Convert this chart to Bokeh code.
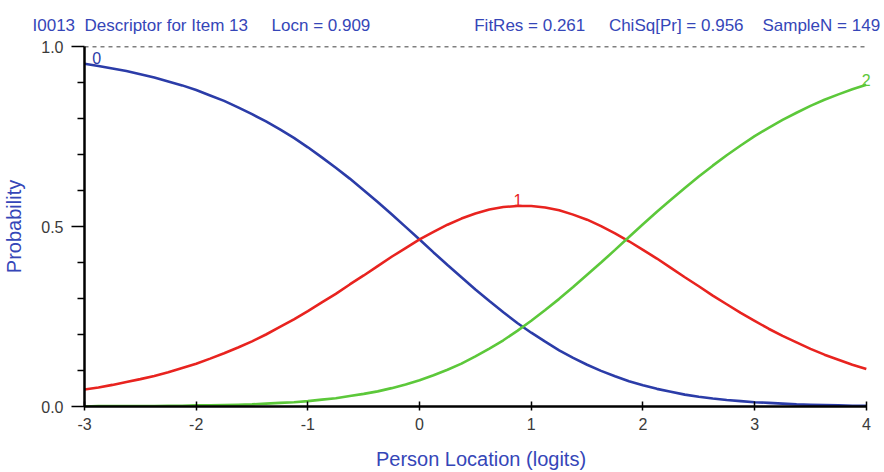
from bokeh.plotting import figure
from bokeh.models import Range1d, FixedTicker, Label, ColumnDataSource, PrintfTickFormatter
from bokeh.embed import file_html
from bokeh.resources import INLINE

# ---- data (category probability curves) ----
x_logits = [-3.0, -2.875, -2.75, -2.625, -2.5, -2.375, -2.25, -2.125,
            -2.0, -1.875, -1.75, -1.625, -1.5, -1.375, -1.25, -1.125,
            -1.0, -0.875, -0.75, -0.625, -0.5, -0.375, -0.25, -0.125,
            0.0, 0.125, 0.25, 0.375, 0.5, 0.625, 0.75, 0.875,
            1.0, 1.125, 1.25, 1.375, 1.5, 1.625, 1.75, 1.875,
            2.0, 2.125, 2.25, 2.375, 2.5, 2.625, 2.75, 2.875,
            3.0, 3.125, 3.25, 3.375, 3.5, 3.625, 3.75, 3.875, 4.0]
p_cat0 = [0.952, 0.946, 0.939, 0.932, 0.923, 0.914, 0.903, 0.892,
          0.879, 0.864, 0.849, 0.831, 0.812, 0.792, 0.770, 0.746,
          0.720, 0.692, 0.663, 0.633, 0.601, 0.568, 0.534, 0.499,
          0.464, 0.428, 0.393, 0.359, 0.325, 0.293, 0.262, 0.232,
          0.205, 0.180, 0.156, 0.135, 0.116, 0.099, 0.084, 0.070,
          0.059, 0.049, 0.041, 0.033, 0.027, 0.022, 0.018, 0.015,
          0.012, 0.010, 0.008, 0.006, 0.005, 0.004, 0.003, 0.002, 0.002]
p_cat1 = [0.047, 0.053, 0.060, 0.068, 0.076, 0.085, 0.095, 0.107,
          0.119, 0.133, 0.148, 0.164, 0.181, 0.200, 0.221, 0.242,
          0.265, 0.289, 0.313, 0.339, 0.364, 0.390, 0.416, 0.440,
          0.464, 0.485, 0.505, 0.522, 0.536, 0.547, 0.554, 0.557,
          0.557, 0.553, 0.545, 0.533, 0.519, 0.501, 0.481, 0.459,
          0.435, 0.411, 0.385, 0.359, 0.334, 0.308, 0.284, 0.260,
          0.238, 0.216, 0.196, 0.178, 0.160, 0.144, 0.130, 0.116, 0.104]
p_cat2 = [0.000, 0.001, 0.001, 0.001, 0.001, 0.001, 0.002, 0.002,
          0.003, 0.003, 0.004, 0.005, 0.006, 0.008, 0.010, 0.012,
          0.015, 0.019, 0.023, 0.029, 0.035, 0.042, 0.051, 0.061,
          0.073, 0.087, 0.102, 0.119, 0.139, 0.161, 0.184, 0.210,
          0.238, 0.268, 0.299, 0.332, 0.366, 0.400, 0.435, 0.471,
          0.506, 0.541, 0.574, 0.607, 0.639, 0.669, 0.698, 0.725,
          0.751, 0.774, 0.796, 0.816, 0.835, 0.852, 0.867, 0.881, 0.894]
categories = ["0", "1", "2"]
label_x = [-2.93, 0.84, 3.96]
label_y = [0.968, 0.557, 0.906]
x_ticks = [-3, -2, -1, 0, 1, 2, 3, 4]
y_ticks = [0.0, 0.5, 1.0]
y_minor_ticks = [0.1, 0.2, 0.3, 0.4, 0.6, 0.7, 0.8, 0.9]
header_parts = ["I0013", "Descriptor for Item 13", "Locn = 0.909",
                "FitRes = 0.261", "ChiSq[Pr] = 0.956", "SampleN = 149"]
header_gaps = [2, 5, 22, 5, 4]   # number of spaces between the parts

FONT = "Liberation Sans"
TEXT_BLUE = "#3546b8"
colors = ["#2b3ca8", "#e8231f", "#5cc83a"]

NBSP = "\u00a0"
header = header_parts[0]
for gap, part in zip(header_gaps, header_parts[1:]):
    header += NBSP * gap + part

p = figure(width=884, height=472, output_backend="svg", toolbar_location=None,
           x_range=Range1d(-3, 4.1), y_range=Range1d(0, 1),
           min_border_left=82, min_border_right=7, min_border_top=46,
           min_border_bottom=63, title=header)
p.outline_line_color = None
p.xgrid.visible = False
p.ygrid.visible = False
p.background_fill_color = "white"
p.border_fill_color = "white"

p.title.align = "left"
p.title.vertical_align = "top"
p.title.offset = -52
p.title.standoff = 19
p.title.text_font = FONT
p.title.text_font_size = "17px"
p.title.text_font_style = "normal"
p.title.text_color = TEXT_BLUE

# dashed reference line at probability 1 across the x-axis extent
p.segment(x0=[x_ticks[0]], y0=[y_ticks[-1]], x1=[x_ticks[-1]], y1=[y_ticks[-1]],
          line_color="#000000", line_dash="4 4", line_width=1.5)

src = ColumnDataSource(dict(x=x_logits, c0=p_cat0, c1=p_cat1, c2=p_cat2))
for col, c in zip(["c0", "c1", "c2"], colors):
    p.line("x", col, source=src, line_color=c, line_width=2.6)

for t, lx, ly, c in zip(categories, label_x, label_y, colors):
    p.add_layout(Label(x=lx, y=ly, text=t, text_color=c, text_font=FONT,
                       text_font_size="16px", text_align="left",
                       text_baseline="bottom" if t == "1" else "middle"))

# axes
p.xaxis.ticker = FixedTicker(ticks=x_ticks)
p.xaxis.formatter = PrintfTickFormatter(format="%d")
p.xaxis.bounds = (x_ticks[0], x_ticks[-1])
p.yaxis.ticker = FixedTicker(ticks=y_ticks, minor_ticks=y_minor_ticks)
p.yaxis.formatter = PrintfTickFormatter(format="%.1f")
for ax in (p.xaxis, p.yaxis):
    ax.axis_line_width = 2.5
    ax.axis_line_color = "black"
    ax.major_tick_line_color = "black"
    ax.major_tick_line_width = 1.5
    ax.minor_tick_line_color = "black"
    ax.minor_tick_line_width = 1.5
    ax.major_label_text_font = FONT
    ax.major_label_text_font_size = "16px"
    ax.major_label_text_color = "#3a3a3a"
    ax.axis_label_text_font = FONT
    ax.axis_label_text_font_size = "20px"
    ax.axis_label_text_font_style = "normal"
    ax.axis_label_text_color = TEXT_BLUE

p.xaxis.axis_label = "Person Location (logits)"
p.xaxis.major_tick_in = 5
p.xaxis.major_tick_out = 4
p.xaxis.minor_tick_in = 0
p.xaxis.minor_tick_out = 0
p.xaxis.major_label_standoff = 7
p.xaxis.axis_label_standoff = 15

p.yaxis.axis_label = "Probability"
p.yaxis.major_tick_in = 0
p.yaxis.major_tick_out = 13
p.yaxis.minor_tick_in = 0
p.yaxis.minor_tick_out = 7
p.yaxis.major_label_standoff = 8
p.yaxis.axis_label_standoff = 13

open("out.html", "w").write(file_html(p, INLINE))
